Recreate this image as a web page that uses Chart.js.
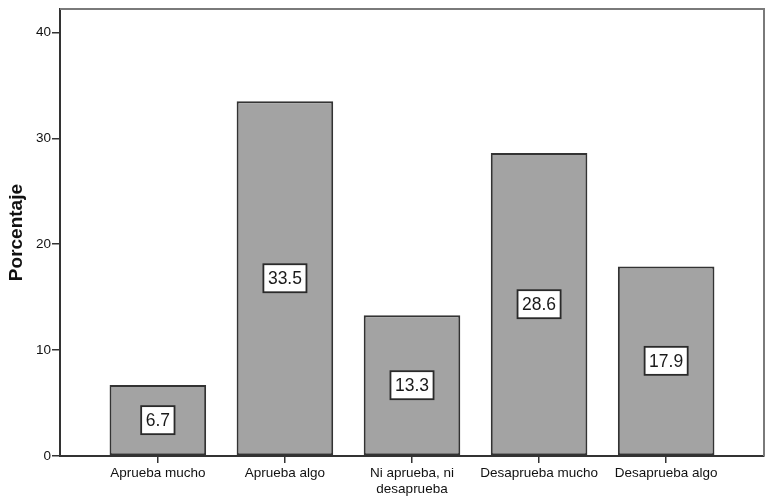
<!DOCTYPE html>
<html><head><meta charset="utf-8">
<script src="https://cdn.jsdelivr.net/npm/chart.js@4"></script>
<style>html,body{margin:0;padding:0;background:#fff}#wrap{width:771px;height:503px}</style>
</head><body><div id="wrap"><canvas id="c" width="771" height="503"></canvas></div>
<script>
const categories = ['Aprueba mucho', 'Aprueba algo', ['Ni aprueba, ni', 'desaprueba'], 'Desaprueba mucho', 'Desaprueba algo'];
const percentages = [6.7, 33.5, 13.3, 28.6, 17.9];
const yTicks = [0, 10, 20, 30, 40];

const FONT = "'Liberation Sans', Arial, sans-serif";

const framePlugin = {
  id: 'frame',
  afterDraw(chart) {
    const {ctx, chartArea: a} = chart;
    ctx.save();
    ctx.strokeStyle = '#7a7a7a';
    ctx.lineWidth = 2;
    ctx.beginPath();
    ctx.moveTo(a.left, a.top);
    ctx.lineTo(a.right, a.top);
    ctx.lineTo(a.right, a.bottom);
    ctx.stroke();
    ctx.restore();
  }
};

const labelPlugin = {
  id: 'valueBoxes',
  afterDatasetsDraw(chart) {
    const {ctx} = chart;
    const meta = chart.getDatasetMeta(0);
    ctx.save();
    ctx.font = '17.5px ' + FONT;
    ctx.textAlign = 'center';
    ctx.textBaseline = 'middle';
    meta.data.forEach((bar, i) => {
      const txt = percentages[i].toFixed(1);
      const cy = (bar.y + bar.base) / 2;
      const w = ctx.measureText(txt).width + 9;
      const h = 28;
      ctx.fillStyle = '#ffffff';
      ctx.fillRect(bar.x - w / 2, cy - h / 2, w, h);
      ctx.strokeStyle = '#2a2a2a';
      ctx.lineWidth = 1.8;
      ctx.strokeRect(bar.x - w / 2, cy - h / 2, w, h);
      ctx.fillStyle = '#1a1a1a';
      ctx.fillText(txt, bar.x, cy + 1);
    });
    ctx.restore();
  }
};

new Chart(document.getElementById('c'), {
  type: 'bar',
  data: {
    datasets: [{
      data: percentages.map((v, i) => ({x: i, y: v})),
      backgroundColor: '#a3a3a3',
      borderColor: '#333333',
      borderWidth: 2,
      borderSkipped: false,
      barPercentage: 0.76,
      categoryPercentage: 1
    }]
  },
  options: {
    responsive: false,
    animation: false,
    devicePixelRatio: 1,
    layout: {padding: {top: 8, right: 7, left: 0, bottom: 0}},
    plugins: {legend: {display: false}, tooltip: {enabled: false}},
    scales: {
      x: {
        type: 'linear',
        min: -0.77,
        max: 4.77,
        offset: false,
        afterBuildTicks(scale) { scale.ticks = categories.map((c, i) => ({value: i})); },
        afterFit(scale) { scale.height = 47; },
        ticks: {
          autoSkip: false, maxRotation: 0, minRotation: 0, padding: 2,
          color: '#111', font: {family: FONT, size: 13.5}, lineHeight: 1.05,
          callback: (v) => categories[v]
        },
        grid: {offset: false, drawOnChartArea: false, drawTicks: true, tickLength: 7, color: '#333', lineWidth: 1.5},
        border: {display: true, color: '#333', width: 2}
      },
      y: {
        type: 'linear',
        min: 0,
        max: 42.2,
        afterBuildTicks(scale) { scale.ticks = yTicks.map(v => ({value: v})); },
        afterFit(scale) { scale.width = 60; },
        ticks: {padding: 1, color: '#111', font: {family: FONT, size: 13.5}},
        grid: {drawOnChartArea: false, drawTicks: true, tickLength: 8, color: '#333', lineWidth: 1.5},
        border: {display: true, color: '#333', width: 2},
        title: {display: true, text: 'Porcentaje', color: '#111', font: {family: FONT, size: 19, weight: 'bold'}, padding: {top: 5, bottom: 0}}
      }
    }
  },
  plugins: [framePlugin, labelPlugin]
});
</script>
</body></html>
